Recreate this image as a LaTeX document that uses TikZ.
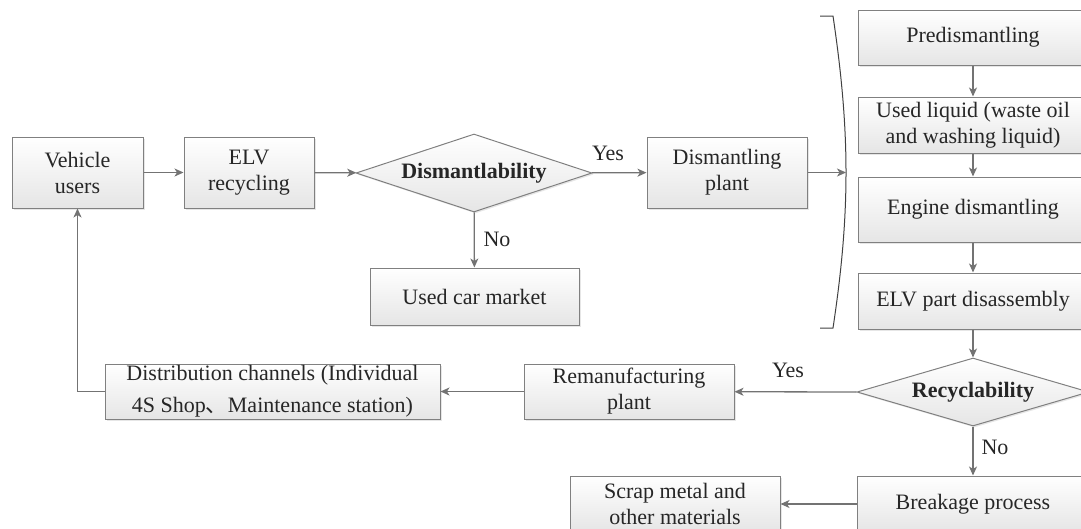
\documentclass[tikz,border=0pt]{standalone}
\usepackage{fontspec}
\setmainfont{Liberation Serif}
\newfontfamily\cjk{Noto Sans CJK SC}
\usetikzlibrary{arrows.meta,shapes.geometric,shadows}

\begin{document}
\begin{tikzpicture}[x=1pt,y=-1pt,
    box/.style={draw=black!50,line width=1pt,top color=white,bottom color=black!10,
        align=center,inner sep=0pt,text=black!85,font=\fontsize{22}{26}\selectfont,
        drop shadow={opacity=0.2,shadow xshift=1.5pt,shadow yshift=-1.5pt}},
    decision/.style={box,diamond,aspect=3,font=\fontsize{22}{26}\selectfont\bfseries},
    link/.style={draw=black!55,line width=1.3pt,-{Stealth[length=9pt,width=8pt,inset=2.5pt]}},
    tag/.style={font=\fontsize{22}{26}\selectfont,text=black!85,inner sep=0pt}]

    \useasboundingbox (0,0) rectangle (1081,528);

    \node[box,minimum width=131pt,minimum height=71pt] (users) at (77.5,172.5) {Vehicle\\users};
    \node[box,minimum width=130pt,minimum height=71pt] (elv) at (249,172.5) {ELV\\recycling};
    \node[decision,minimum width=236pt,minimum height=78pt] (dis) at (474,173) {Dismantlability};
    \node[box,minimum width=160pt,minimum height=71pt] (plant) at (727,172.5) {Dismantling\\plant};
    \node[box,minimum width=209pt,minimum height=57pt] (market) at (474.5,296.5) {Used car market};

    \draw[link] (users) -- (elv);
    \draw[link] (elv) -- (dis);
    \draw[link] (dis) -- (plant);
    \draw[link] (dis) -- (market);
    \node[tag] (yes1) at (608,153) {Yes};
    \node[tag] (no1) at (497,239) {No};

    \coordinate (brk) at (846,172.5);
    \draw[black!75,line width=1pt] (820,16) -- (833,16) .. controls (841,70) and (846,120) .. (brk)
        .. controls (846,225) and (841,275) .. (833,328) -- (820,328);
    \draw[link] (plant) -- (brk);

    \node[box,minimum width=230pt,minimum height=55pt] (pre) at (973,37.5) {Predismantling};
    \node[box,minimum width=230pt,minimum height=56pt] (liquid) at (973,125) {Used liquid (waste oil\\and washing liquid)};
    \node[box,minimum width=230pt,minimum height=65pt] (engine) at (973,209.5) {Engine dismantling};
    \node[box,minimum width=230pt,minimum height=56pt] (part) at (973,301) {ELV part disassembly};

    \draw[link] (pre) -- (liquid);
    \draw[link] (liquid) -- (engine);
    \draw[link] (engine) -- (part);

    \node[decision,minimum width=232pt,minimum height=68pt] (recy) at (973,392) {Recyclability};
    \node[box,minimum width=232pt,minimum height=56pt] (breakage) at (973,504) {Breakage process};
    \node[box,minimum width=210pt,minimum height=56pt] (scrap) at (675,504) {Scrap metal and\\other materials};
    \node[box,minimum width=210pt,minimum height=55pt] (reman) at (629,391.5) {Remanufacturing\\plant};
    \node[box,minimum width=335pt,minimum height=55pt,font=\fontsize{22}{32}\selectfont] (dist) at (272.5,391.5)
        {Distribution channels (Individual\\4S Shop{\cjk 、}Maintenance station)};

    \draw[link] (part) -- (recy);
    \draw[link] (recy) -- (breakage);
    \draw[link] (recy.west) -- (reman);
    \draw[link] (reman) -- (dist);
    \draw[link] (breakage) -- (scrap);
    \draw[link] (dist.west) -- (users.south |- dist.west) -- (users.south);
    \node[tag] (yes2) at (788,370) {Yes};
    \node[tag] (no2) at (995,447) {No};

\end{tikzpicture}
\end{document}
